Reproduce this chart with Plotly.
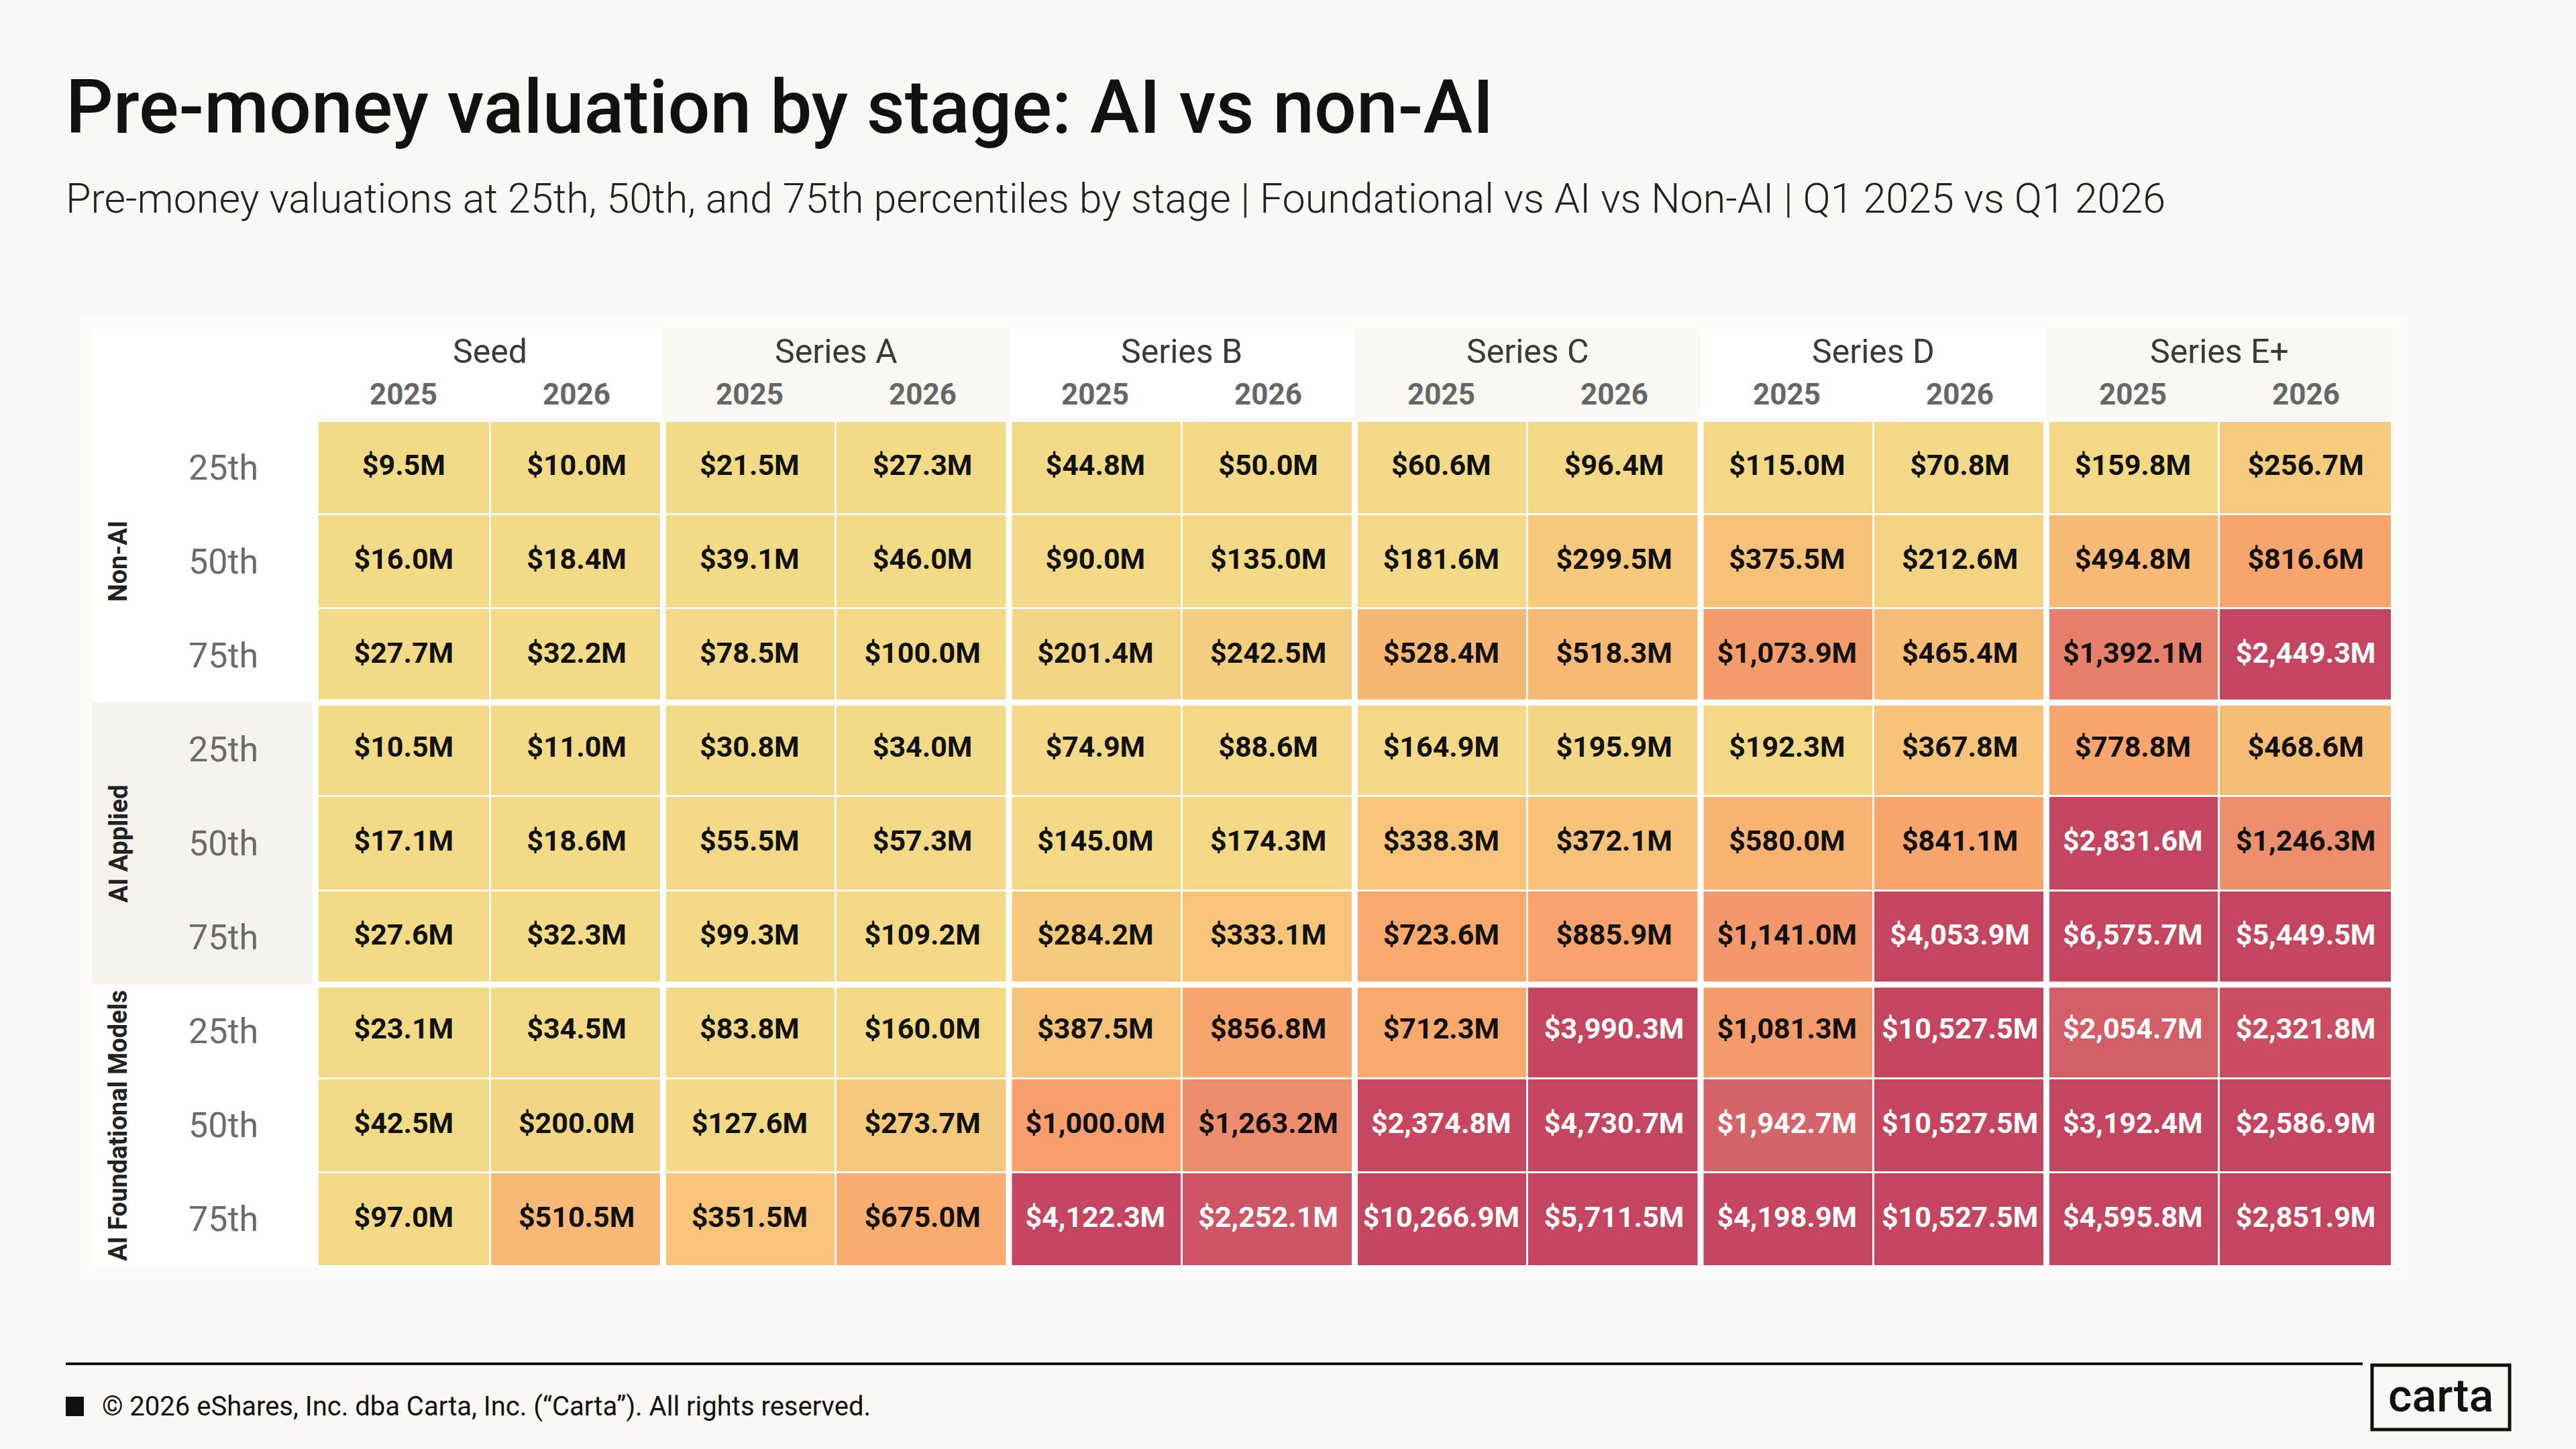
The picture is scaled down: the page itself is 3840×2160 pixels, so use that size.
import plotly.graph_objects as go

# --- data (pre-money valuation, $M) ---
stages = ["Seed", "Series A", "Series B", "Series C", "Series D", "Series E+"]
years = ["2025", "2026"]
percentiles = ["25th", "50th", "75th"]
groups = ["Non-AI", "AI Applied", "AI Foundational Models"]

# each row: Seed 2025, Seed 2026, Series A 2025, ... Series E+ 2026
non_ai_p25 = [9.5, 10.0, 21.5, 27.3, 44.8, 50.0, 60.6, 96.4, 115.0, 70.8, 159.8, 256.7]
non_ai_p50 = [16.0, 18.4, 39.1, 46.0, 90.0, 135.0, 181.6, 299.5, 375.5, 212.6, 494.8, 816.6]
non_ai_p75 = [27.7, 32.2, 78.5, 100.0, 201.4, 242.5, 528.4, 518.3, 1073.9, 465.4, 1392.1, 2449.3]
ai_applied_p25 = [10.5, 11.0, 30.8, 34.0, 74.9, 88.6, 164.9, 195.9, 192.3, 367.8, 778.8, 468.6]
ai_applied_p50 = [17.1, 18.6, 55.5, 57.3, 145.0, 174.3, 338.3, 372.1, 580.0, 841.1, 2831.6, 1246.3]
ai_applied_p75 = [27.6, 32.3, 99.3, 109.2, 284.2, 333.1, 723.6, 885.9, 1141.0, 4053.9, 6575.7, 5449.5]
ai_found_p25 = [23.1, 34.5, 83.8, 160.0, 387.5, 856.8, 712.3, 3990.3, 1081.3, 10527.5, 2054.7, 2321.8]
ai_found_p50 = [42.5, 200.0, 127.6, 273.7, 1000.0, 1263.2, 2374.8, 4730.7, 1942.7, 10527.5, 3192.4, 2586.9]
ai_found_p75 = [97.0, 510.5, 351.5, 675.0, 4122.3, 2252.1, 10266.9, 5711.5, 4198.9, 10527.5, 4595.8, 2851.9]

rows = [non_ai_p25, non_ai_p50, non_ai_p75,
        ai_applied_p25, ai_applied_p50, ai_applied_p75,
        ai_found_p25, ai_found_p50, ai_found_p75]

W, H = 3840, 2160
BG = "#f9f8f5"


def px(x):
    return x / W


def py(y):
    return 1 - y / H


n_cols = len(stages) * len(years)
n_rows = len(rows)
cols = list(range(n_cols))
row_idx = list(range(n_rows))

colorscale = [
    [0.0, "#f3da87"], [0.08, "#f3d886"], [0.11, "#f5ca7c"], [0.2, "#f7bb76"],
    [0.3, "#f9a86e"], [0.4, "#f7a16c"], [0.48, "#f2976c"], [0.53, "#ec8c6d"],
    [0.58, "#e6806b"], [0.8, "#d6646a"], [0.94, "#cd5565"], [1.0, "#c4455f"],
]

fig = go.Figure()
fig.add_trace(go.Heatmap(
    z=rows, x=cols, y=row_idx,
    colorscale=colorscale, zmin=0, zmax=2400,
    xgap=3, ygap=3, showscale=False, hoverinfo="skip",
))

# cell labels
tx, ty, tt, tc = [], [], [], []
for r, vals in enumerate(rows):
    for c, v in enumerate(vals):
        tx.append(c)
        ty.append(r)
        tt.append(f"${v:,.1f}M")
        tc.append("#ffffff" if v >= 1500 else "#111111")
fig.add_trace(go.Scatter(
    x=tx, y=ty, text=tt, mode="text", hoverinfo="skip",
    textfont=dict(family="Roboto", size=43, color=tc, weight="bold"),
    showlegend=False,
))

shapes = []
# table container
shapes.append(dict(type="rect", xref="paper", yref="paper", x0=px(120), x1=px(3590),
                   y0=py(1910), y1=py(470), fillcolor="#fbfaf6", line_width=0, layer="below"))
# left label column backgrounds
shapes.append(dict(type="rect", xref="paper", yref="paper", x0=px(138), x1=px(473),
                   y0=py(1888), y1=py(490), fillcolor="#ffffff", line_width=0, layer="below"))
shapes.append(dict(type="rect", xref="paper", yref="y", x0=px(138), x1=px(466),
                   y0=2.5, y1=5.5, fillcolor="#f6f3ef", line_width=0, layer="below"))
# stage header backgrounds (alternating)
for s in range(len(stages)):
    shapes.append(dict(type="rect", xref="x", yref="paper", x0=2 * s - 0.5, x1=2 * s + 1.5,
                       y0=py(622), y1=py(490),
                       fillcolor="#ffffff" if s % 2 == 0 else "#faf8f3",
                       line_width=0, layer="below"))
# thick separators between groups
for s in range(1, len(stages)):
    shapes.append(dict(type="line", xref="x", yref="y", x0=2 * s - 0.5, x1=2 * s - 0.5,
                       y0=-0.5, y1=n_rows - 0.5, line=dict(color="#ffffff", width=9)))
for g in range(1, len(groups)):
    shapes.append(dict(type="line", xref="x", yref="y", x0=-0.5, x1=n_cols - 0.5,
                       y0=3 * g - 0.5, y1=3 * g - 0.5, line=dict(color="#ffffff", width=9)))
# clean outer border of the grid
shapes.append(dict(type="rect", xref="x", yref="y", x0=-0.5, x1=n_cols - 0.5,
                   y0=-0.5, y1=n_rows - 0.5, line=dict(color="#ffffff", width=4)))
# footer
shapes.append(dict(type="line", xref="paper", yref="paper", x0=px(98), x1=px(3522),
                   y0=py(2033), y1=py(2033), line=dict(color="#111111", width=4)))
shapes.append(dict(type="rect", xref="paper", yref="paper", x0=px(98), x1=px(125),
                   y0=py(2111), y1=py(2082), fillcolor="#111111", line_width=0))
shapes.append(dict(type="rect", xref="paper", yref="paper", x0=px(3536), x1=px(3741),
                   y0=py(2131), y1=py(2035), line=dict(color="#111111", width=5)))

ann = []
ann.append(dict(text="Pre-money valuation by stage: AI vs non-AI", xref="paper", yref="paper",
                x=px(96), y=py(160), xanchor="left", yanchor="middle", showarrow=False,
                font=dict(family="Roboto", size=111, color="#111111", weight=500)))
ann.append(dict(text="Pre-money valuations at 25th, 50th, and 75th percentiles by stage | "
                     "Foundational vs AI vs Non-AI | Q1 2025 vs Q1 2026",
                xref="paper", yref="paper", x=px(96), y=py(296), xanchor="left", yanchor="middle",
                showarrow=False, font=dict(family="Roboto", size=61, color="#222222", weight=300)))
for s, name in enumerate(stages):
    ann.append(dict(text=name, xref="x", yref="paper", x=2 * s + 0.5, y=py(524),
                    xanchor="center", yanchor="middle", showarrow=False,
                    font=dict(family="Roboto", size=50, color="#3a3a3a")))
    for k, yr in enumerate(years):
        ann.append(dict(text=yr, xref="x", yref="paper", x=2 * s + k, y=py(588),
                        xanchor="center", yanchor="middle", showarrow=False,
                        font=dict(family="Roboto", size=44, color="#666666", weight="bold")))
for g, name in enumerate(groups):
    ann.append(dict(text=name, xref="paper", yref="y", x=px(176), y=3 * g + 1,
                    xanchor="center", yanchor="middle", textangle=-90, showarrow=False,
                    font=dict(family="Roboto", size=38, color="#222222", weight="bold")))
    for k, p in enumerate(percentiles):
        ann.append(dict(text=p, xref="paper", yref="y", x=px(333), y=3 * g + k,
                        xanchor="center", yanchor="middle", showarrow=False,
                        font=dict(family="Roboto", size=52, color="#6b6b6b")))
ann.append(dict(text="© 2026 eShares, Inc. dba Carta, Inc. (“Carta”). All rights reserved.",
                xref="paper", yref="paper", x=px(150), y=py(2096), xanchor="left",
                yanchor="middle", showarrow=False,
                font=dict(family="Roboto", size=40, color="#111111")))
ann.append(dict(text="carta", xref="paper", yref="paper", x=px(3638), y=py(2081),
                xanchor="center", yanchor="middle", showarrow=False,
                font=dict(family="Roboto", size=68, color="#111111", weight=500)))

fig.update_layout(
    width=W, height=H,
    margin=dict(l=0, r=0, t=0, b=0),
    paper_bgcolor=BG, plot_bgcolor="#e9e6e0",
    shapes=shapes, annotations=ann, showlegend=False,
    xaxis=dict(domain=[px(473), px(3566)], range=[-0.5, n_cols - 0.5], visible=False,
               fixedrange=True),
    yaxis=dict(domain=[py(1888), py(627)], range=[n_rows - 0.5, -0.5], visible=False,
               fixedrange=True),
)

fig.write_html("out.html", config={"displayModeBar": False},
               post_script="document.body.style.margin='0';")
